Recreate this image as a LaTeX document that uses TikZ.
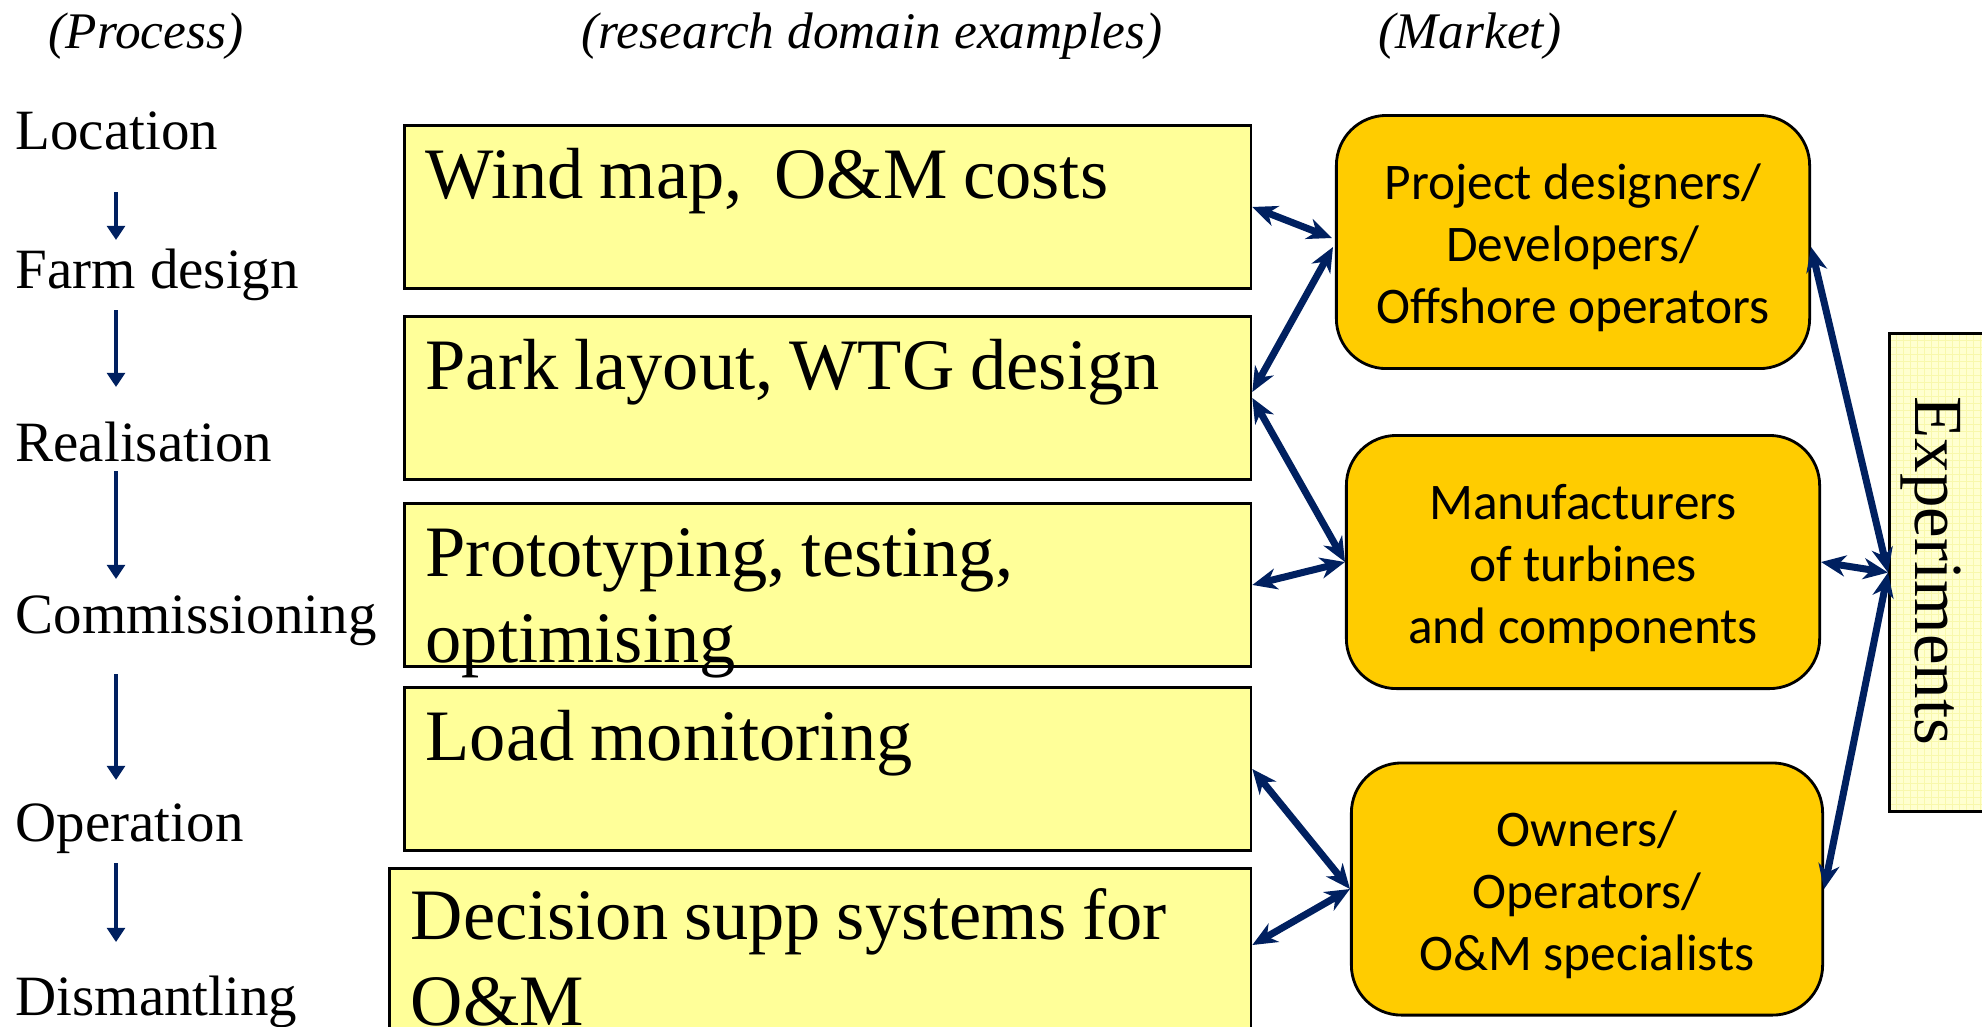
\documentclass[tikz,border=0pt]{standalone}
\usepackage{fontspec}
\setmainfont{Liberation Serif}
\newfontfamily\calibri{Carlito}
\usetikzlibrary{calc,arrows.meta}

\definecolor{navy}{RGB}{0,32,96}
\definecolor{boxyellow}{RGB}{255,255,153}
\definecolor{mktorange}{RGB}{255,204,0}
\definecolor{expyellow}{RGB}{255,255,208}
\definecolor{expgrid}{RGB}{248,248,172}

\begin{document}
\begin{tikzpicture}[x=0.01cm,y=-0.01cm,
	dom/.style={draw=black,line width=0.8pt,fill=boxyellow,inner sep=0pt,anchor=north west,minimum width=\bw,minimum height=\bh},
	domtext/.style={anchor=base west,inner sep=0pt,text width=8.2cm,align=left,font=\fontsize{20.6}{24.5}\selectfont,
		execute at begin node={\spaceskip=0.22em plus 0.05em\xspaceskip=0.24em\relax}},
	mkt/.style={draw=black,line width=0.8pt,fill=mktorange,rounded corners=0.5cm,inner sep=0pt,minimum width=4.73cm,minimum height=2.53cm},
	mkttext/.style={inner sep=0pt,align=center,font=\calibri\fontsize{14.6}{17.6}\selectfont},
	proc/.style={anchor=base west,inner sep=0pt,font=\fontsize{16.2}{19}\selectfont},
	head/.style={anchor=base west,inner sep=0pt,font=\itshape\fontsize{14.6}{17}\selectfont},
	procarrow/.style={navy,line width=1.4pt,-{Triangle[length=4pt,width=5pt]}},
	link/.style={navy,line width=2pt,{Stealth[length=7pt,width=6pt,inset=2.2pt]}-{Stealth[length=7pt,width=6pt,inset=2.2pt]}}]
		\def \bw {8.46cm}
		\def \bh {1.63cm}
		\useasboundingbox (0,0) rectangle (1982,1026);
		
		%column titles
		\node[head] (hproc) at (48,48) {(Process)};
		\node[head] (hdom) at (581,48) {(research domain examples)};
		\node[head] (hmkt) at (1378,48) {(Market)};
		
		%process steps
		\node[proc] (loc) at (15,149) {Location};
		\node[proc] (farm) at (15,288) {Farm design};
		\node[proc] (real) at (15,461) {Realisation};
		\node[proc] (comm) at (15,633) {Commissioning};
		\node[proc] (oper) at (15,841) {Operation};
		\node[proc] (dism) at (15,1015) {Dismantling};
		
		\draw[procarrow] ($(loc.base west)+(101,43)$) -- ($(farm.base west)+(101,-48)$);
		\draw[procarrow] ($(farm.base west)+(101,22)$) -- ($(real.base west)+(101,-74)$);
		\draw[procarrow] ($(real.base west)+(101,10)$) -- ($(comm.base west)+(101,-54)$);
		\draw[procarrow] ($(comm.base west)+(101,41)$) -- ($(oper.base west)+(101,-61)$);
		\draw[procarrow] ($(oper.base west)+(101,22)$) -- ($(dism.base west)+(101,-73)$);
		
		%research domain boxes
		\node[dom] (b1) at (403,124) {};
		\node[dom] (b2) at (403,315) {};
		\node[dom] (b3) at (403,502) {};
		\node[dom] (b4) at (403,686) {};
		\node[dom,minimum width=8.61cm,minimum height=1.93cm] (b5) at (388,867) {};
		
		\node[domtext] (t1) at ($(b1.north west)+(22,74)$) {Wind map,\ \ O\&M costs};
		\node[domtext] (t2) at ($(b2.north west)+(22,74)$) {Park layout, WTG design};
		\node[domtext] (t3) at ($(b3.north west)+(22,74)$) {Prototyping, testing,\\optimising};
		\node[domtext] (t4) at ($(b4.north west)+(22,74)$) {Load monitoring};
		\node[domtext] (t5) at ($(b5.north west)+(22,72)$) {Decision supp systems for\\O\&M};
		
		%market boxes
		\node[mkt] (o1) at (1573,242) {};
		\node[mkt] (o2) at (1583,562) {};
		\node[mkt,minimum width=4.71cm,minimum height=2.52cm] (o3) at (1587,889) {};
		
		\node[mkttext] (o1t) at ($(o1.center)+(0,6)$) {Project designers/\\Developers/\\Offshore operators};
		\node[mkttext] (o2t) at ($(o2.center)+(0,6)$) {Manufacturers\\of turbines\\and components};
		\node[mkttext] (o3t) at ($(o3.center)+(0,6)$) {Owners/\\Operators/\\O\&M specialists};
		
		%experiments
		\node[draw=black,line width=0.8pt,fill=expyellow,inner sep=0pt,anchor=north west,minimum width=1.12cm,minimum height=4.78cm,
			path picture={\draw[expgrid,line width=0.25pt,step=2pt] (path picture bounding box.south west) grid (path picture bounding box.north east);}] (exp) at (1888,332) {};
		\node[rotate=-90,inner sep=0pt,font=\fontsize{19.6}{22}\selectfont] (exptxt) at (1931,571) {Experiments};
		
		%links
		\draw[link] (b1.east) -- ($(o1.west)+(-3,-4)$);
		\draw[link] ($(o1.west)+(-2,5)$) -- ($(b2.east)+(0,-6)$);
		\draw[link] (b2.east) -- (o2.west);
		\draw[link] (b3.east) -- (o2.west);
		\draw[link] (b4.east) -- (o3.west);
		\draw[link] ($(b5.north east)+(0,78)$) -- (o3.west);
		\draw[link] ($(o1.east)+(0,5)$) -- (exp.west);
		\draw[link] (o2.east) -- (exp.west);
		\draw[link] (o3.east) -- (exp.west);
\end{tikzpicture}
\end{document}
